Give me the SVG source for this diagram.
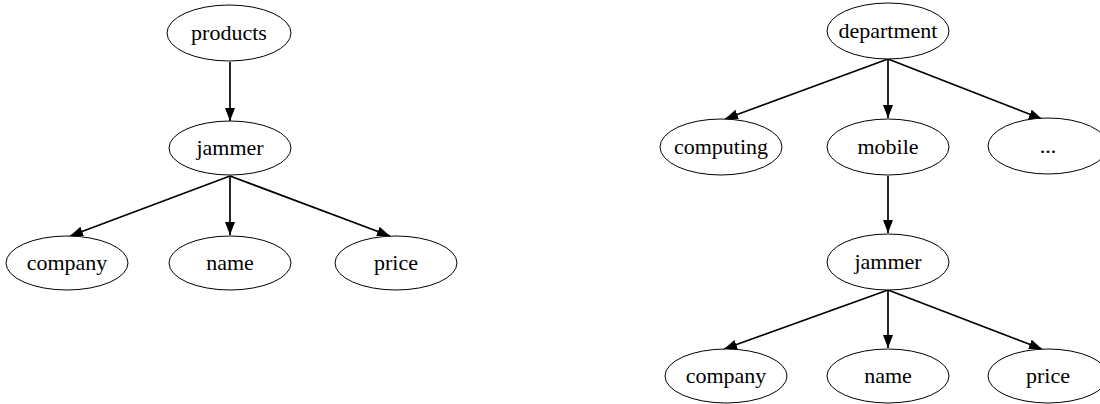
<svg xmlns="http://www.w3.org/2000/svg" width="1100" height="404" viewBox="0 0 1100 404">
<style>
.n ellipse{fill:#fff;stroke:#000;stroke-width:1}
.n text{font-family:"Liberation Serif","Times New Roman",serif;font-size:22px;text-anchor:middle;fill:#000}
.e line{stroke:#000;stroke-width:1.7;marker-end:url(#ah)}
</style>
<defs>
<marker id="ah" markerUnits="userSpaceOnUse" markerWidth="14" markerHeight="12" refX="13" refY="5" orient="auto">
<path d="M0,0 L13,5 L0,10 z" fill="#000"/>
</marker>
</defs>
<rect width="1100" height="404" fill="#fff"/>
<g id="edges" class="e">
<line x1="230" y1="62" x2="230" y2="121"/>
<line x1="230" y1="176" x2="70" y2="236"/>
<line x1="230" y1="176" x2="230" y2="235"/>
<line x1="230" y1="176" x2="390" y2="236"/>
<line x1="888" y1="59" x2="725" y2="119"/>
<line x1="888" y1="59" x2="888" y2="118"/>
<line x1="888" y1="59" x2="1042" y2="119"/>
<line x1="888" y1="176" x2="888" y2="233"/>
<line x1="888" y1="290" x2="724" y2="349"/>
<line x1="888" y1="290" x2="888" y2="348"/>
<line x1="888" y1="290" x2="1042" y2="349"/>
</g>
<g id="products" class="n"><ellipse cx="229" cy="33" rx="62" ry="28"/><text x="229" y="40">products</text></g>
<g id="jammer1" class="n"><ellipse cx="230" cy="148" rx="61" ry="27"/><text x="230" y="155">jammer</text></g>
<g id="company1" class="n"><ellipse cx="67" cy="263" rx="61" ry="27"/><text x="67" y="270">company</text></g>
<g id="name1" class="n"><ellipse cx="230" cy="263" rx="61" ry="27"/><text x="230" y="270">name</text></g>
<g id="price1" class="n"><ellipse cx="396" cy="263" rx="61" ry="27"/><text x="396" y="270">price</text></g>
<g id="department" class="n"><ellipse cx="888" cy="31" rx="61" ry="28"/><text x="888" y="38">department</text></g>
<g id="computing" class="n"><ellipse cx="721" cy="147" rx="61" ry="28"/><text x="721" y="154">computing</text></g>
<g id="mobile" class="n"><ellipse cx="888" cy="147" rx="61" ry="28"/><text x="888" y="154">mobile</text></g>
<g id="more" class="n"><ellipse cx="1048" cy="146" rx="60" ry="28"/><text x="1048" y="153">...</text></g>
<g id="jammer2" class="n"><ellipse cx="888" cy="262" rx="61" ry="28"/><text x="888" y="269">jammer</text></g>
<g id="company2" class="n"><ellipse cx="726" cy="376" rx="61" ry="27"/><text x="726" y="383">company</text></g>
<g id="name2" class="n"><ellipse cx="888" cy="376" rx="61" ry="27"/><text x="888" y="383">name</text></g>
<g id="price2" class="n"><ellipse cx="1048" cy="376" rx="60" ry="27"/><text x="1048" y="383">price</text></g>
</svg>
